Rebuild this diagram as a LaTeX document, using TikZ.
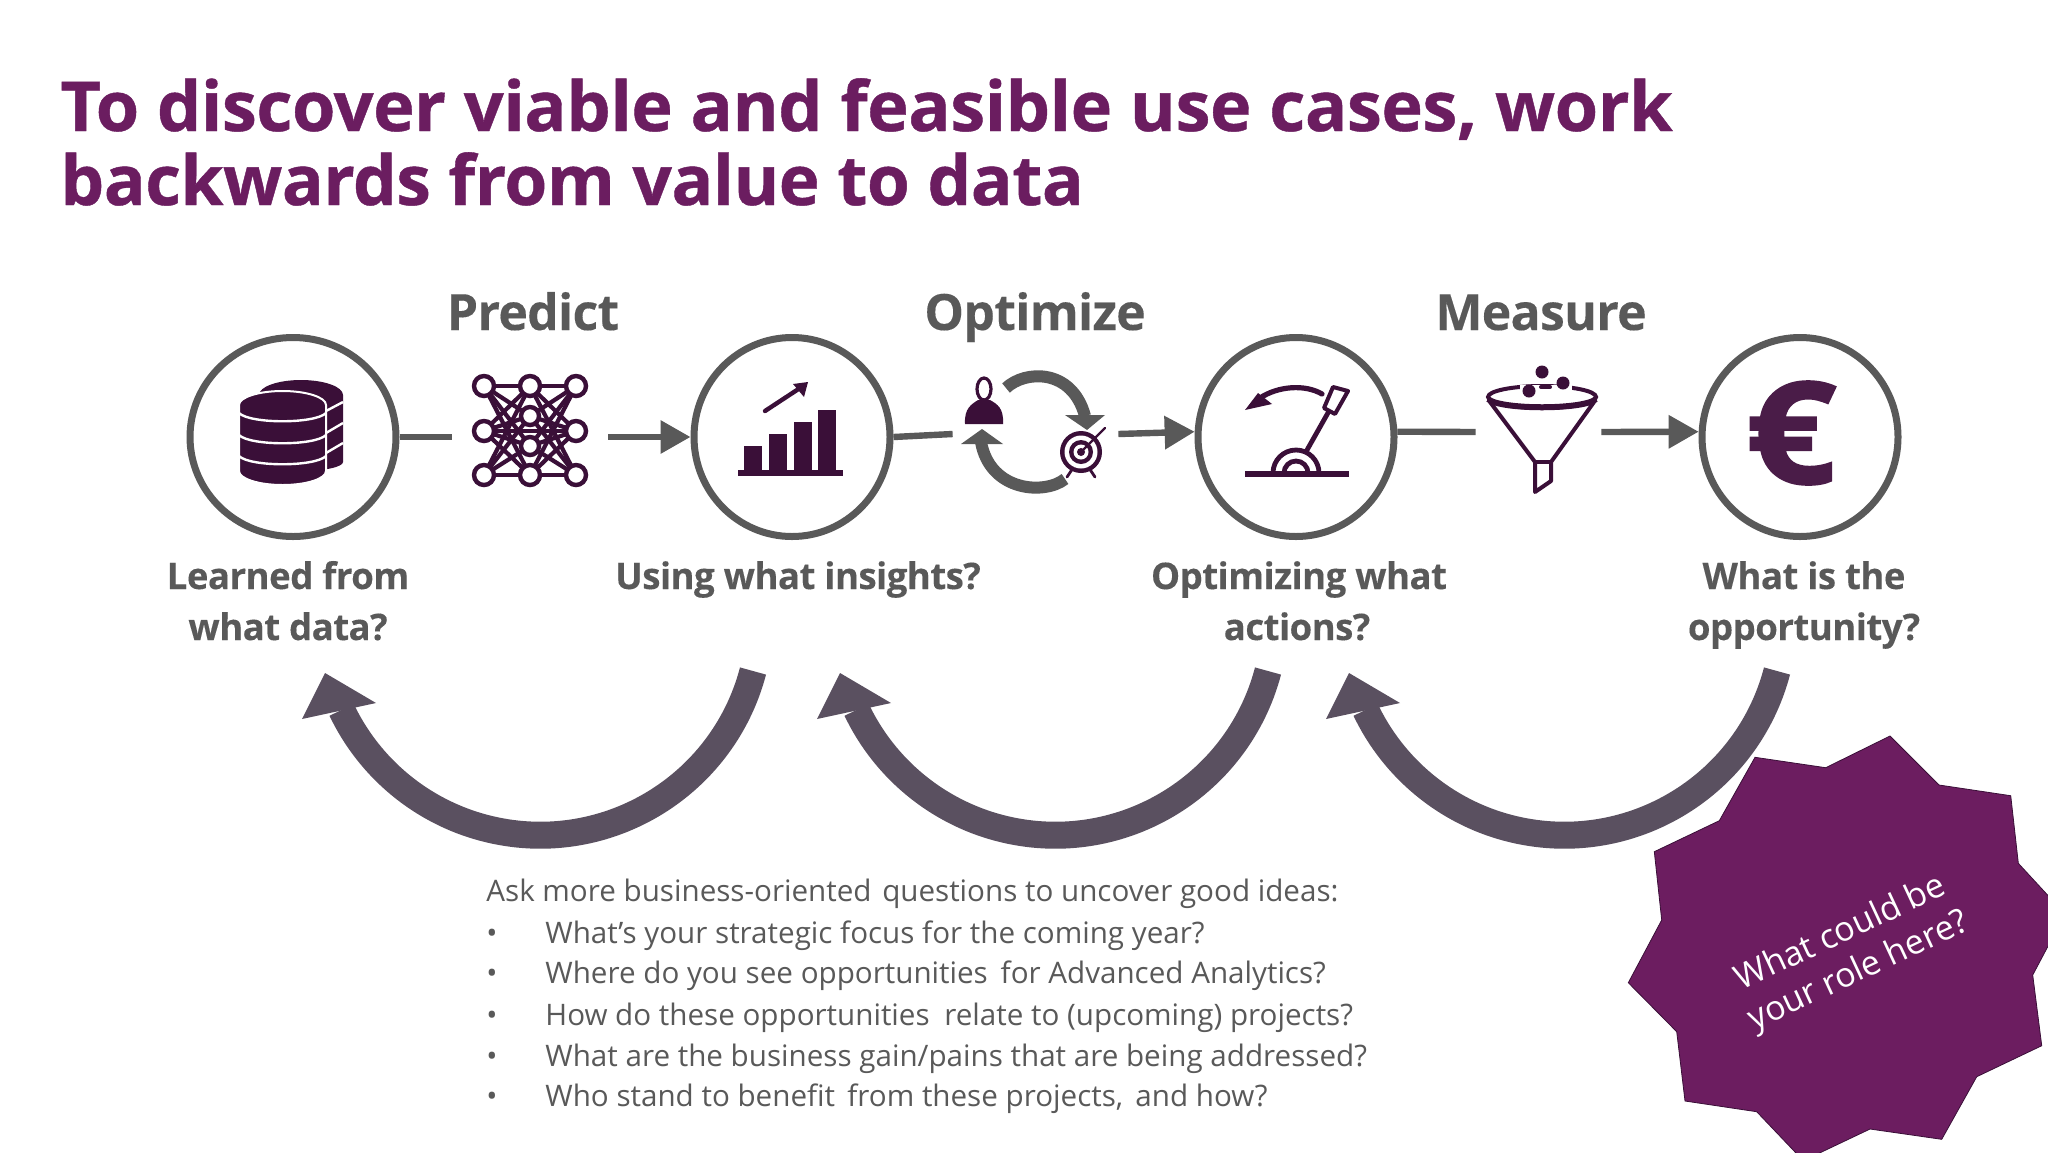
\documentclass[tikz,border=0pt]{standalone}
\usepackage{fontspec}
\setmainfont{Open Sans}
\newfontfamily\titlefont[LetterSpace=-0.6,BoldFeatures={FakeBold=0.6}]{Open Sans}
\newfontfamily\headfont[LetterSpace=-1.5,BoldFeatures={FakeBold=0.2}]{Open Sans}
\newfontfamily\eurofont[BoldFeatures={FakeBold=1.5}]{Open Sans}
\definecolor{ttl}{HTML}{6B1D60}
\definecolor{grayc}{HTML}{595959}
\definecolor{icon}{HTML}{3A0F38}
\definecolor{bigarrow}{HTML}{5A5060}
\definecolor{eurocol}{HTML}{4A1C48}
\definecolor{starc}{HTML}{6C1D60}
\usetikzlibrary{arrows.meta,shapes.geometric}
\tikzset{
  x=0.5pt,y=-0.5pt,
  titlet/.style={anchor=base west,inner sep=0,text=ttl,font=\titlefont\fontsize{34.5}{37}\selectfont\bfseries},
  headt/.style={anchor=base,inner sep=0,text=grayc,font=\headfont\fontsize{25}{28}\selectfont\bfseries},
  lblt/.style={anchor=base,inner sep=0,text=grayc,font=\headfont\fontsize{18.3}{22}\selectfont\bfseries},
  listt/.style={anchor=base west,inner sep=0,text=grayc,font=\fontsize{14.8}{18}\selectfont},
  ring/.style={ellipse,draw=grayc,line width=3.5pt,fill=none,minimum height=99.5pt,minimum width=98pt,inner sep=0},
  iconslot/.style={rectangle,draw=none,inner sep=0,minimum height=20pt},
  conn/.style={draw=grayc,line width=3.2pt},
  connarrow/.style={conn,-{Triangle[length=15pt,width=16pt]},shorten >=0pt},
  ic/.style={fill=icon,draw=none},
  icl/.style={draw=icon,line cap=round},
}
\begin{document}
\begin{tikzpicture}
\useasboundingbox (0,0) rectangle (2048,1152);
\fill[white] (0,0) rectangle (2048,1152);

% title
\node[titlet,xscale=1.017] (t1) at (60,131) {To discover viable and feasible use cases, work};
\node[titlet,xscale=1.004] (t2) at (60,205) {backwards from value to data};

% headings
\node[headt] (hp) at (533,330) {Predict};
\node[headt] (ho) at (1035,330) {Optimize};
\node[headt] (hm) at (1541,330) {Measure};

% rings
\node[ring,minimum width=103pt] (c1) at (293,437) {};
\node[ring] (c2) at (792,437) {};
\node[ring] (c3) at (1296,437) {};
\node[ring] (c4) at (1800,437) {};

% connector slots around the small icons
\node[iconslot,minimum width=78pt] (s1) at (530,437) {};
\node[iconslot,minimum width=82.5pt] (s2) at (1035.5,434) {};
\node[iconslot,minimum width=62.5pt] (s3) at (1538.5,432) {};

\draw[conn] (c1.east) -- (s1.west);
\draw[connarrow] (s1.east) -- (c2.west);
\draw[conn] (c2.east) -- (s2.west);
\draw[connarrow] (s2.east) -- (c3.177);
\draw[conn] (c3.3) -- (s3.west);
\draw[connarrow] (s3.east) -- (c4.177);

% database
\fill[ic] (259,395) arc[start angle=180,end angle=360,x radius=42,y radius=15] -- (343,462) arc[start angle=0,end angle=180,x radius=42,y radius=9] -- cycle;
\fill[ic,draw=white,line width=1pt] (239,405) arc[start angle=180,end angle=360,x radius=43.5,y radius=14] -- (326,471) arc[start angle=0,end angle=180,x radius=43.5,y radius=14] -- cycle;
\draw[white,line width=1.2pt] (239,413) .. controls (250,424) and (315,424) .. (326,413);
\draw[white,line width=1.2pt] (239,435) .. controls (250,446) and (315,446) .. (326,435);
\draw[white,line width=1.2pt] (239,456) .. controls (250,467) and (315,467) .. (326,456);
\draw[white,line width=1.2pt] (326,411) -- (343,402);
\draw[white,line width=1.2pt] (326,433) -- (343,423);
\draw[white,line width=1.2pt] (326,453) -- (343,443);

% neural network
\foreach \ya in {386,431,475}{
  \foreach \yb in {386,416,446,475}{
    \draw[icl,line width=2.1pt] (484,\ya) -- (530,\yb);
    \draw[icl,line width=2.1pt] (576,\ya) -- (530,\yb);
  }
}
\draw[icl,line width=2.1pt] (484,431) -- (576,431);
\foreach \xa/\ya/\ra in {484/386/10,530/386/10,576/386/10,484/431/10,576/431/10,484/475/10,530/475/10,576/475/10,530/416/9,530/446/9}{
  \fill[white,draw=icon,line width=2.2pt] (\xa,\ya) circle[radius=\ra];
}

% bar chart
\fill[ic] (744,446) rectangle (762,472);
\fill[ic] (769,434) rectangle (787,472);
\fill[ic] (794,422) rectangle (812,472);
\fill[ic] (818,410) rectangle (836,472);
\fill[ic] (738,470) rectangle (843,476);
\draw[icl,line width=2.2pt] (765,411) -- (800,388);
\fill[ic] (808,382) -- (804,397) -- (793,384) -- cycle;

% person
\fill[white,draw=icon,line width=1.6pt] (984,389) ellipse[x radius=7,y radius=11];
\fill[ic] (965,424) .. controls (964,408) and (972,404) .. (978,400) -- (990,400) .. controls (997,404) and (1004,408) .. (1003,424) -- cycle;
% cycle arrows
\draw[grayc,line width=6pt] (1006,388) .. controls (1025,370) and (1072,368) .. (1085,416);
\fill[grayc] (1065,415) -- (1105,415) -- (1087,430) -- cycle;
\draw[grayc,line width=6pt] (1065,479) .. controls (1045,495) and (990,492) .. (981,442);
\fill[grayc] (961,444) -- (1003,444) -- (982,429) -- cycle;
% target
\foreach \r/\c in {21/icon,16.5/white,12/icon,7.5/white,4/icon}{
  \fill[\c] (1081,452) circle[radius=\r];
}
\draw[icl,line width=1.2pt] (1081,452) -- (1105,428);
\draw[icl,line width=1.4pt] (1073,468) -- (1067,477);
\draw[icl,line width=1.4pt] (1089,468) -- (1095,477);

% lever
\fill[ic] (1245,471) rectangle (1349,476.5);
\draw[icl,line width=2.4pt] (1273,473) arc[start angle=180,end angle=360,radius=23];
\draw[icl,line width=2.4pt] (1284,473) arc[start angle=180,end angle=360,radius=12];
\draw[icl,line width=2.4pt] (1307,450) -- (1329,411);
\fill[white,draw=icon,line width=2pt,line join=round] (1333,387) -- (1348,391) -- (1335,414) -- (1324,408) -- cycle;
\draw[icl,line width=2.6pt] (1322,394) .. controls (1305,384) and (1278,386) .. (1260,398);
\fill[ic] (1245,410) -- (1258,393) -- (1272,404) -- cycle;

% funnel
\draw[icon,line width=2pt] (1542,397) ellipse[x radius=54,y radius=11];
\draw[icon,line width=3pt] (1488,399) .. controls (1500,410) and (1584,410) .. (1596,399);
\draw[icl,line width=2pt,line join=round] (1490,402) -- (1535,462) -- (1535,492) -- (1551,481) -- (1551,462) -- (1594,402);
\draw[icl,line width=2pt] (1535,462) -- (1551,462);
\fill[white] (1520,385) rectangle (1572,394);
\fill[ic] (1542,372) circle[radius=6.5];
\fill[ic] (1529,391) circle[radius=6.5];
\fill[ic] (1563,383) circle[radius=6.5];
\draw[icl,line width=2pt] (1541,387) -- (1550,387);

% euro
\node[inner sep=0,xscale=1.12,text=eurocol,font=\eurofont\fontsize{71}{71}\selectfont\bfseries] (eur) at (1791,433) {€};

% question labels
\node[lblt] (q1a) at (288,589) {Learned from};
\node[lblt] (q1b) at (288,640) {what data?};
\node[lblt] (q2a) at (798,589) {Using what insights?};
\node[lblt] (q3a) at (1299,589) {Optimizing what};
\node[lblt] (q3b) at (1297,640) {actions?};
\node[lblt] (q4a) at (1804,589) {What is the};
\node[lblt] (q4b) at (1804,640) {opportunity?};

% big curved arrows
\foreach \dx in {0,515,1024}{
  \begin{scope}[xshift=\dx*0.5pt]
    \draw[bigarrow,line width=13.5pt] (753,671) arc[start angle=14.7,end angle=154.5,radius=220];
    \fill[bigarrow] (325,673) -- (376,703) -- (339,711) -- (302,719) -- cycle;
  \end{scope}
}

% list
\node[listt] (l0) at (486,901) {Ask more business-oriented\hspace{1.5pt} questions to uncover good ideas:};
\foreach \n/\y/\t in {1/943/{What’s your strategic focus for the coming year?},
                      2/983/{Where do you see opportunities\hspace{2.6pt} for Advanced Analytics?},
                      3/1025/{How do these opportunities\hspace{3.5pt} relate to (upcoming) projects?},
                      4/1066/{What are the business gain/pains that are being addressed?},
                      5/1106/{Who stand to benefit\hspace{2.3pt} from these projects,\hspace{2.3pt} and how?}}{
  \node[listt] (b\n) at (486,\y) {•};
  \node[listt] (l\n) at (545,\y) {\t};
}

% star
\begin{scope}
\clip (0,0) rectangle (2048,1152);
\fill[starc,draw=icon,line width=0.4pt] (1890,736) -- (1939,785) -- (2010.7,795.7) -- (2018.3,863.3) -- (2065,914) -- (2032.7,975) -- (2041.7,1045.7) -- (1976.7,1076.7) -- (1941.7,1139.3) -- (1870,1129) -- (1803.3,1160.7) -- (1756.7,1111.7) -- (1685,1101) -- (1676.7,1031.7) -- (1628.3,982.7) -- (1661.7,920) -- (1654.3,851.7) -- (1719.3,820.7) -- (1755,757.3) -- (1825.7,767.7) -- cycle;
\end{scope}
\node[inner sep=0,text=white,rotate=25,align=center,font=\fontsize{17}{21}\selectfont] (st) at (1850,953) {What could be\\your role here?};
\end{tikzpicture}
\end{document}
